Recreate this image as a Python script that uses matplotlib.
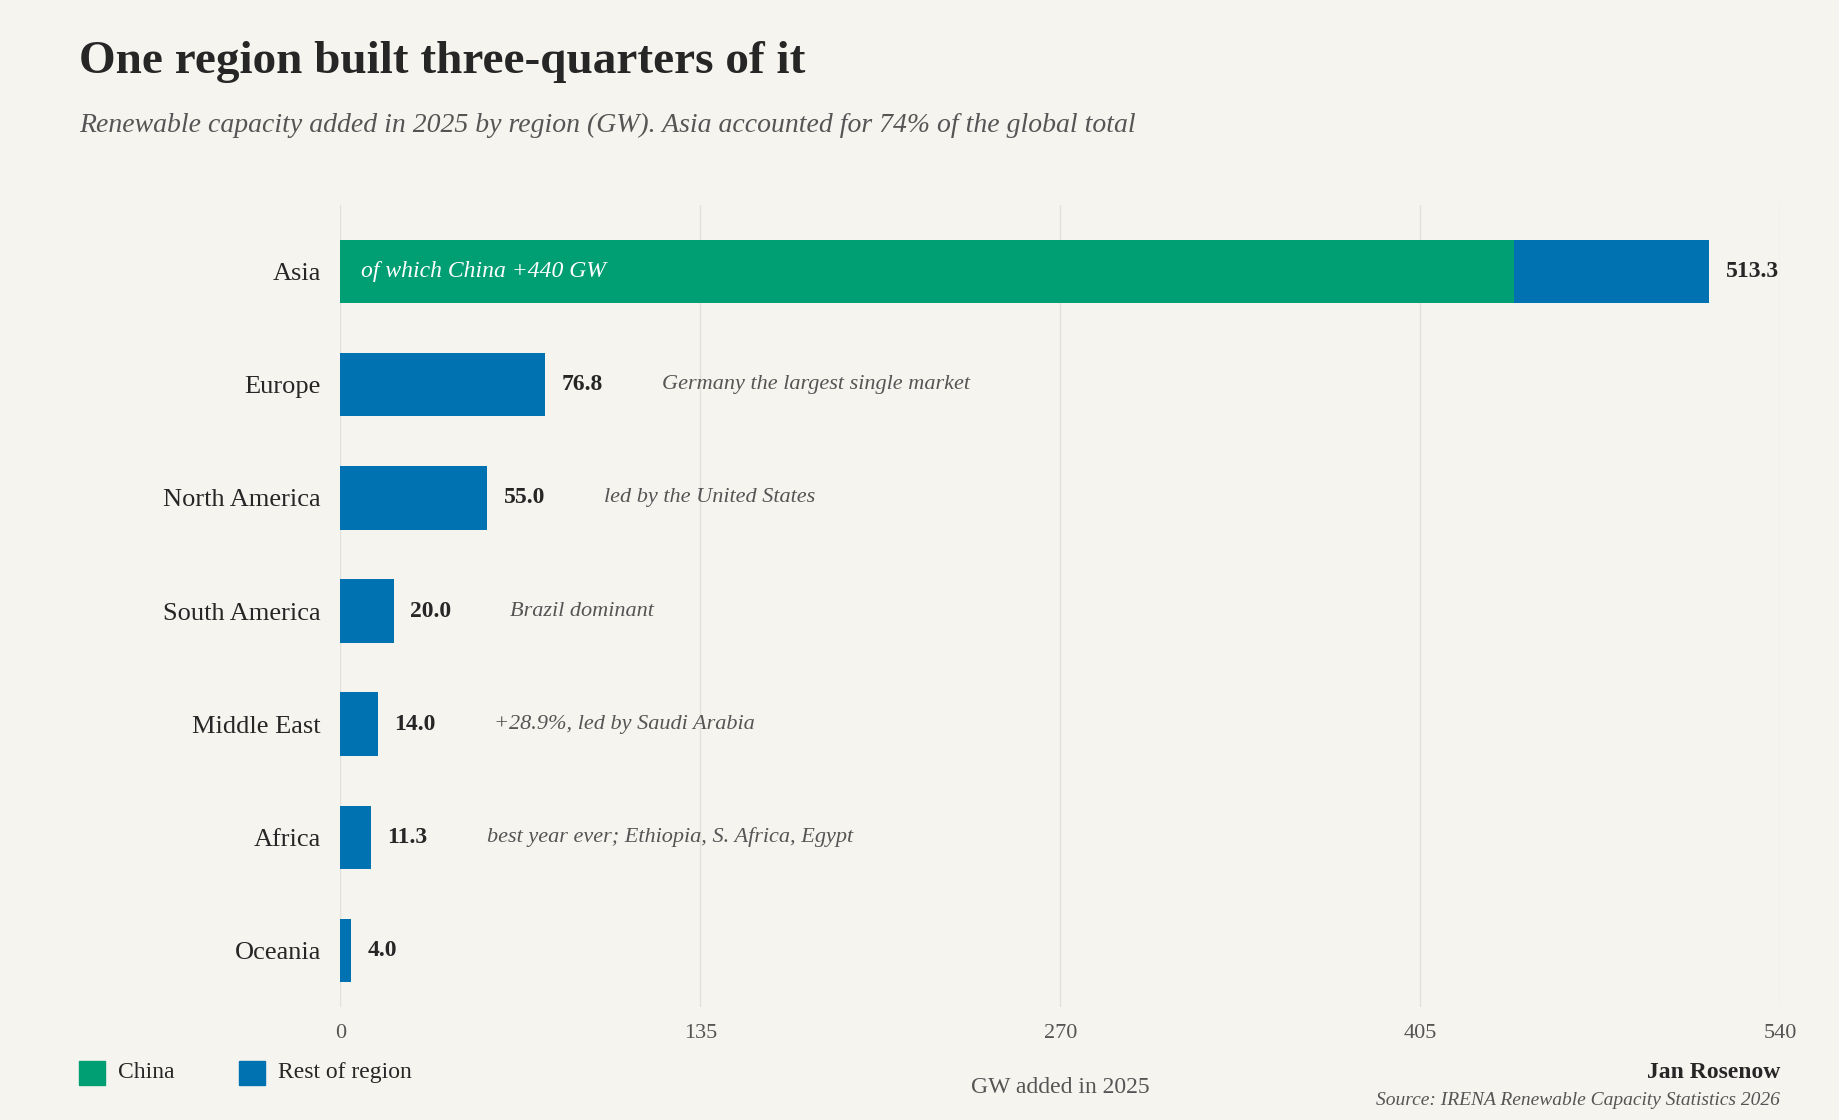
import matplotlib.pyplot as plt

regions = ['Asia', 'Europe', 'North America', 'South America', 'Middle East', 'Africa', 'Oceania']
totals = [513.3, 76.8, 55.0, 20.0, 14.0, 11.3, 4.0]
china = 440.0
notes = ['', 'Germany the largest single market', 'led by the United States',
         'Brazil dominant', '+28.9%, led by Saudi Arabia',
         'best year ever; Ethiopia, S. Africa, Egypt', '']
ticks = [0, 135, 270, 405, 540]

green = '#009E73'
blue = '#0072B2'
bg = '#F6F4EF'
dark = '#262626'
grey = '#555555'

plt.rcParams['font.family'] = ['Liberation Serif', 'DejaVu Serif']

fig = plt.figure(figsize=(18.4, 11.2), dpi=100, facecolor=bg)
ax = fig.add_axes([0.185, 0.101, 0.7825, 0.716], facecolor=bg)

y = list(range(len(regions)))
rest = [t - china if i == 0 else t for i, t in enumerate(totals)]
left = [china if i == 0 else 0 for i in range(len(regions))]
ax.barh(0, china, height=0.56, color=green, zorder=3)
ax.barh(y, rest, left=left, height=0.56, color=blue, zorder=3)

for i, t in enumerate(totals):
    ax.annotate(f'{t:.1f}', (t, i), xytext=(12, 0), textcoords='offset points',
                va='center', ha='left', fontsize=17, fontweight='bold', color=dark)
    if notes[i]:
        ax.annotate(notes[i], (t, i), xytext=(84, 0), textcoords='offset points',
                    va='center', ha='left', fontsize=16, style='italic', color=grey)
ax.annotate('of which China +440 GW', (0, 0), xytext=(15, 0), textcoords='offset points',
            va='center', ha='left', fontsize=17, style='italic', color='white', zorder=4)

ax.set_xlim(0, 540)
ax.set_ylim(6.5, -0.59)
ax.set_xticks(ticks)
ax.set_xticklabels([str(t) for t in ticks], fontsize=16, color=grey)
ax.set_yticks(y)
ax.set_yticklabels(regions, fontsize=19, color=dark)
ax.tick_params(length=0, pad=14)
ax.tick_params(axis='x', pad=12)
ax.grid(axis='x', color='#E2E0DA', lw=1, zorder=0)
for s in ax.spines.values():
    s.set_visible(False)

fig.text(0.043, 0.945, 'One region built three-quarters of it', fontsize=34,
         fontweight='bold', color=dark, va='center')
fig.text(0.043, 0.888, 'Renewable capacity added in 2025 by region (GW). Asia accounted for 74% of the global total',
         fontsize=20, style='italic', color=grey, va='center')

fig.patches.append(plt.Rectangle((0.043, 0.031), 0.014, 0.022, color=green, transform=fig.transFigure))
fig.text(0.064, 0.042, 'China', fontsize=17, color=dark, va='center')
fig.patches.append(plt.Rectangle((0.130, 0.031), 0.014, 0.022, color=blue, transform=fig.transFigure))
fig.text(0.151, 0.042, 'Rest of region', fontsize=17, color=dark, va='center')

fig.text(0.576, 0.029, 'GW added in 2025', fontsize=17, color=grey, ha='center', va='center')
fig.text(0.9675, 0.042, 'Jan Rosenow', fontsize=17, fontweight='bold', color=dark, ha='right', va='center')
fig.text(0.9675, 0.017, 'Source: IRENA Renewable Capacity Statistics 2026', fontsize=14,
         style='italic', color=grey, ha='right', va='center')

fig.savefig('out.png', dpi=100, facecolor=bg)
